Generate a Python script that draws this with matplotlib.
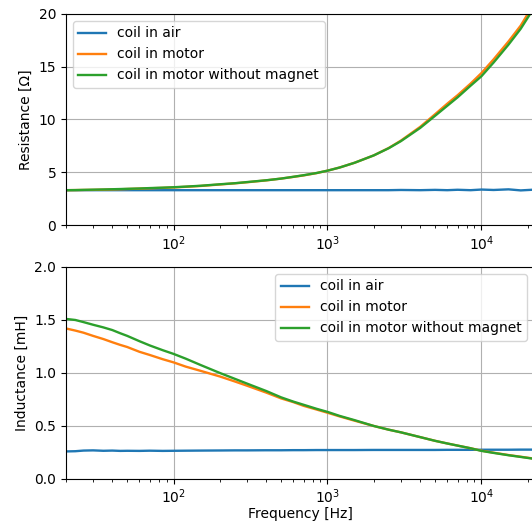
import numpy as np
import matplotlib
matplotlib.use("Agg")
import matplotlib.pyplot as plt

freq = [20, 23, 26, 30, 35, 40, 45, 50, 60, 70, 85, 100, 120, 150, 200,
        250, 300, 400, 500, 600, 700, 850, 1000, 1200, 1500, 2000, 2500,
        3000, 4000, 5000, 6000, 7000, 8500, 10000, 12000, 15000, 18000,
        22000]

# Resistance [Ohm]
res_air = [3.3, 3.3, 3.3, 3.3, 3.3, 3.3, 3.3, 3.3, 3.3, 3.3, 3.3, 3.3, 3.3,
           3.3, 3.3, 3.3, 3.3, 3.3, 3.3, 3.3, 3.3, 3.3, 3.3, 3.3, 3.3, 3.3,
           3.3, 3.32, 3.3, 3.33, 3.3, 3.34, 3.3, 3.36, 3.32, 3.38, 3.28,
           3.35]
res_motor = [3.3, 3.31, 3.32, 3.33, 3.35, 3.37, 3.39, 3.41, 3.45, 3.48,
             3.52, 3.56, 3.62, 3.7, 3.84, 3.95, 4.05, 4.23, 4.4, 4.56, 4.7,
             4.92, 5.15, 5.45, 5.9, 6.6, 7.3, 8.0, 9.3, 10.5, 11.5, 12.3,
             13.4, 14.4, 15.7, 17.4, 18.9, 21.0]
res_nomag = [3.3, 3.31, 3.33, 3.35, 3.37, 3.39, 3.41, 3.43, 3.46, 3.5,
             3.54, 3.58, 3.64, 3.72, 3.86, 3.96, 4.07, 4.24, 4.4, 4.57,
             4.72, 4.93, 5.15, 5.45, 5.9, 6.6, 7.28, 7.95, 9.2, 10.35, 11.3,
             12.1, 13.2, 14.1, 15.4, 17.1, 18.6, 20.6]

# Inductance [mH]
ind_air = [0.26, 0.262, 0.268, 0.27, 0.266, 0.268, 0.265, 0.266, 0.265,
           0.267, 0.265, 0.266, 0.267, 0.268, 0.269, 0.27, 0.27, 0.271,
           0.271, 0.272, 0.272, 0.273, 0.273, 0.273, 0.273, 0.274, 0.274,
           0.274, 0.274, 0.274, 0.275, 0.275, 0.275, 0.276, 0.276, 0.276,
           0.277, 0.277]
ind_motor = [1.42, 1.4, 1.38, 1.35, 1.32, 1.29, 1.265, 1.245, 1.2, 1.17,
             1.13, 1.1, 1.06, 1.02, 0.967, 0.92, 0.88, 0.815, 0.76, 0.725,
             0.69, 0.655, 0.625, 0.59, 0.55, 0.5, 0.465, 0.44, 0.395, 0.36,
             0.335, 0.315, 0.29, 0.267, 0.248, 0.226, 0.21, 0.192]
ind_nomag = [1.51, 1.5, 1.48, 1.455, 1.43, 1.405, 1.375, 1.35, 1.3, 1.26,
             1.215, 1.18, 1.135, 1.075, 1.0, 0.945, 0.9, 0.83, 0.77, 0.73,
             0.7, 0.662, 0.633, 0.595, 0.555, 0.5, 0.465, 0.44, 0.395, 0.36,
             0.335, 0.315, 0.29, 0.265, 0.246, 0.224, 0.208, 0.19]

labels = ["coil in air", "coil in motor", "coil in motor without magnet"]

fig = plt.figure(figsize=(5.32, 5.24), dpi=100)
ax1 = fig.add_axes([0.124, 0.5706, 0.88, 0.4027])
ax2 = fig.add_axes([0.124, 0.0859, 0.88, 0.4046])

for y, lab in zip([res_air, res_motor, res_nomag], labels):
    ax1.plot(freq, y, linewidth=1.7, label=lab)
ax1.set_xscale("log")
ax1.set_xlim(20, 22000)
ax1.set_ylim(0, 20)
ax1.set_ylabel("Resistance [Ω]")
ax1.grid(True)
ax1.legend(loc="upper left")

for y, lab in zip([ind_air, ind_motor, ind_nomag], labels):
    ax2.plot(freq, y, linewidth=1.7, label=lab)
ax2.set_xscale("log")
ax2.set_xlim(20, 22000)
ax2.set_ylim(0, 2.0)
ax2.set_ylabel("Inductance [mH]")
ax2.set_xlabel("Frequency [Hz]", labelpad=1)
ax2.tick_params(axis="x", pad=2.5)
ax2.grid(True)
ax2.legend(loc="upper right")

fig.savefig("out.png", dpi=100)
